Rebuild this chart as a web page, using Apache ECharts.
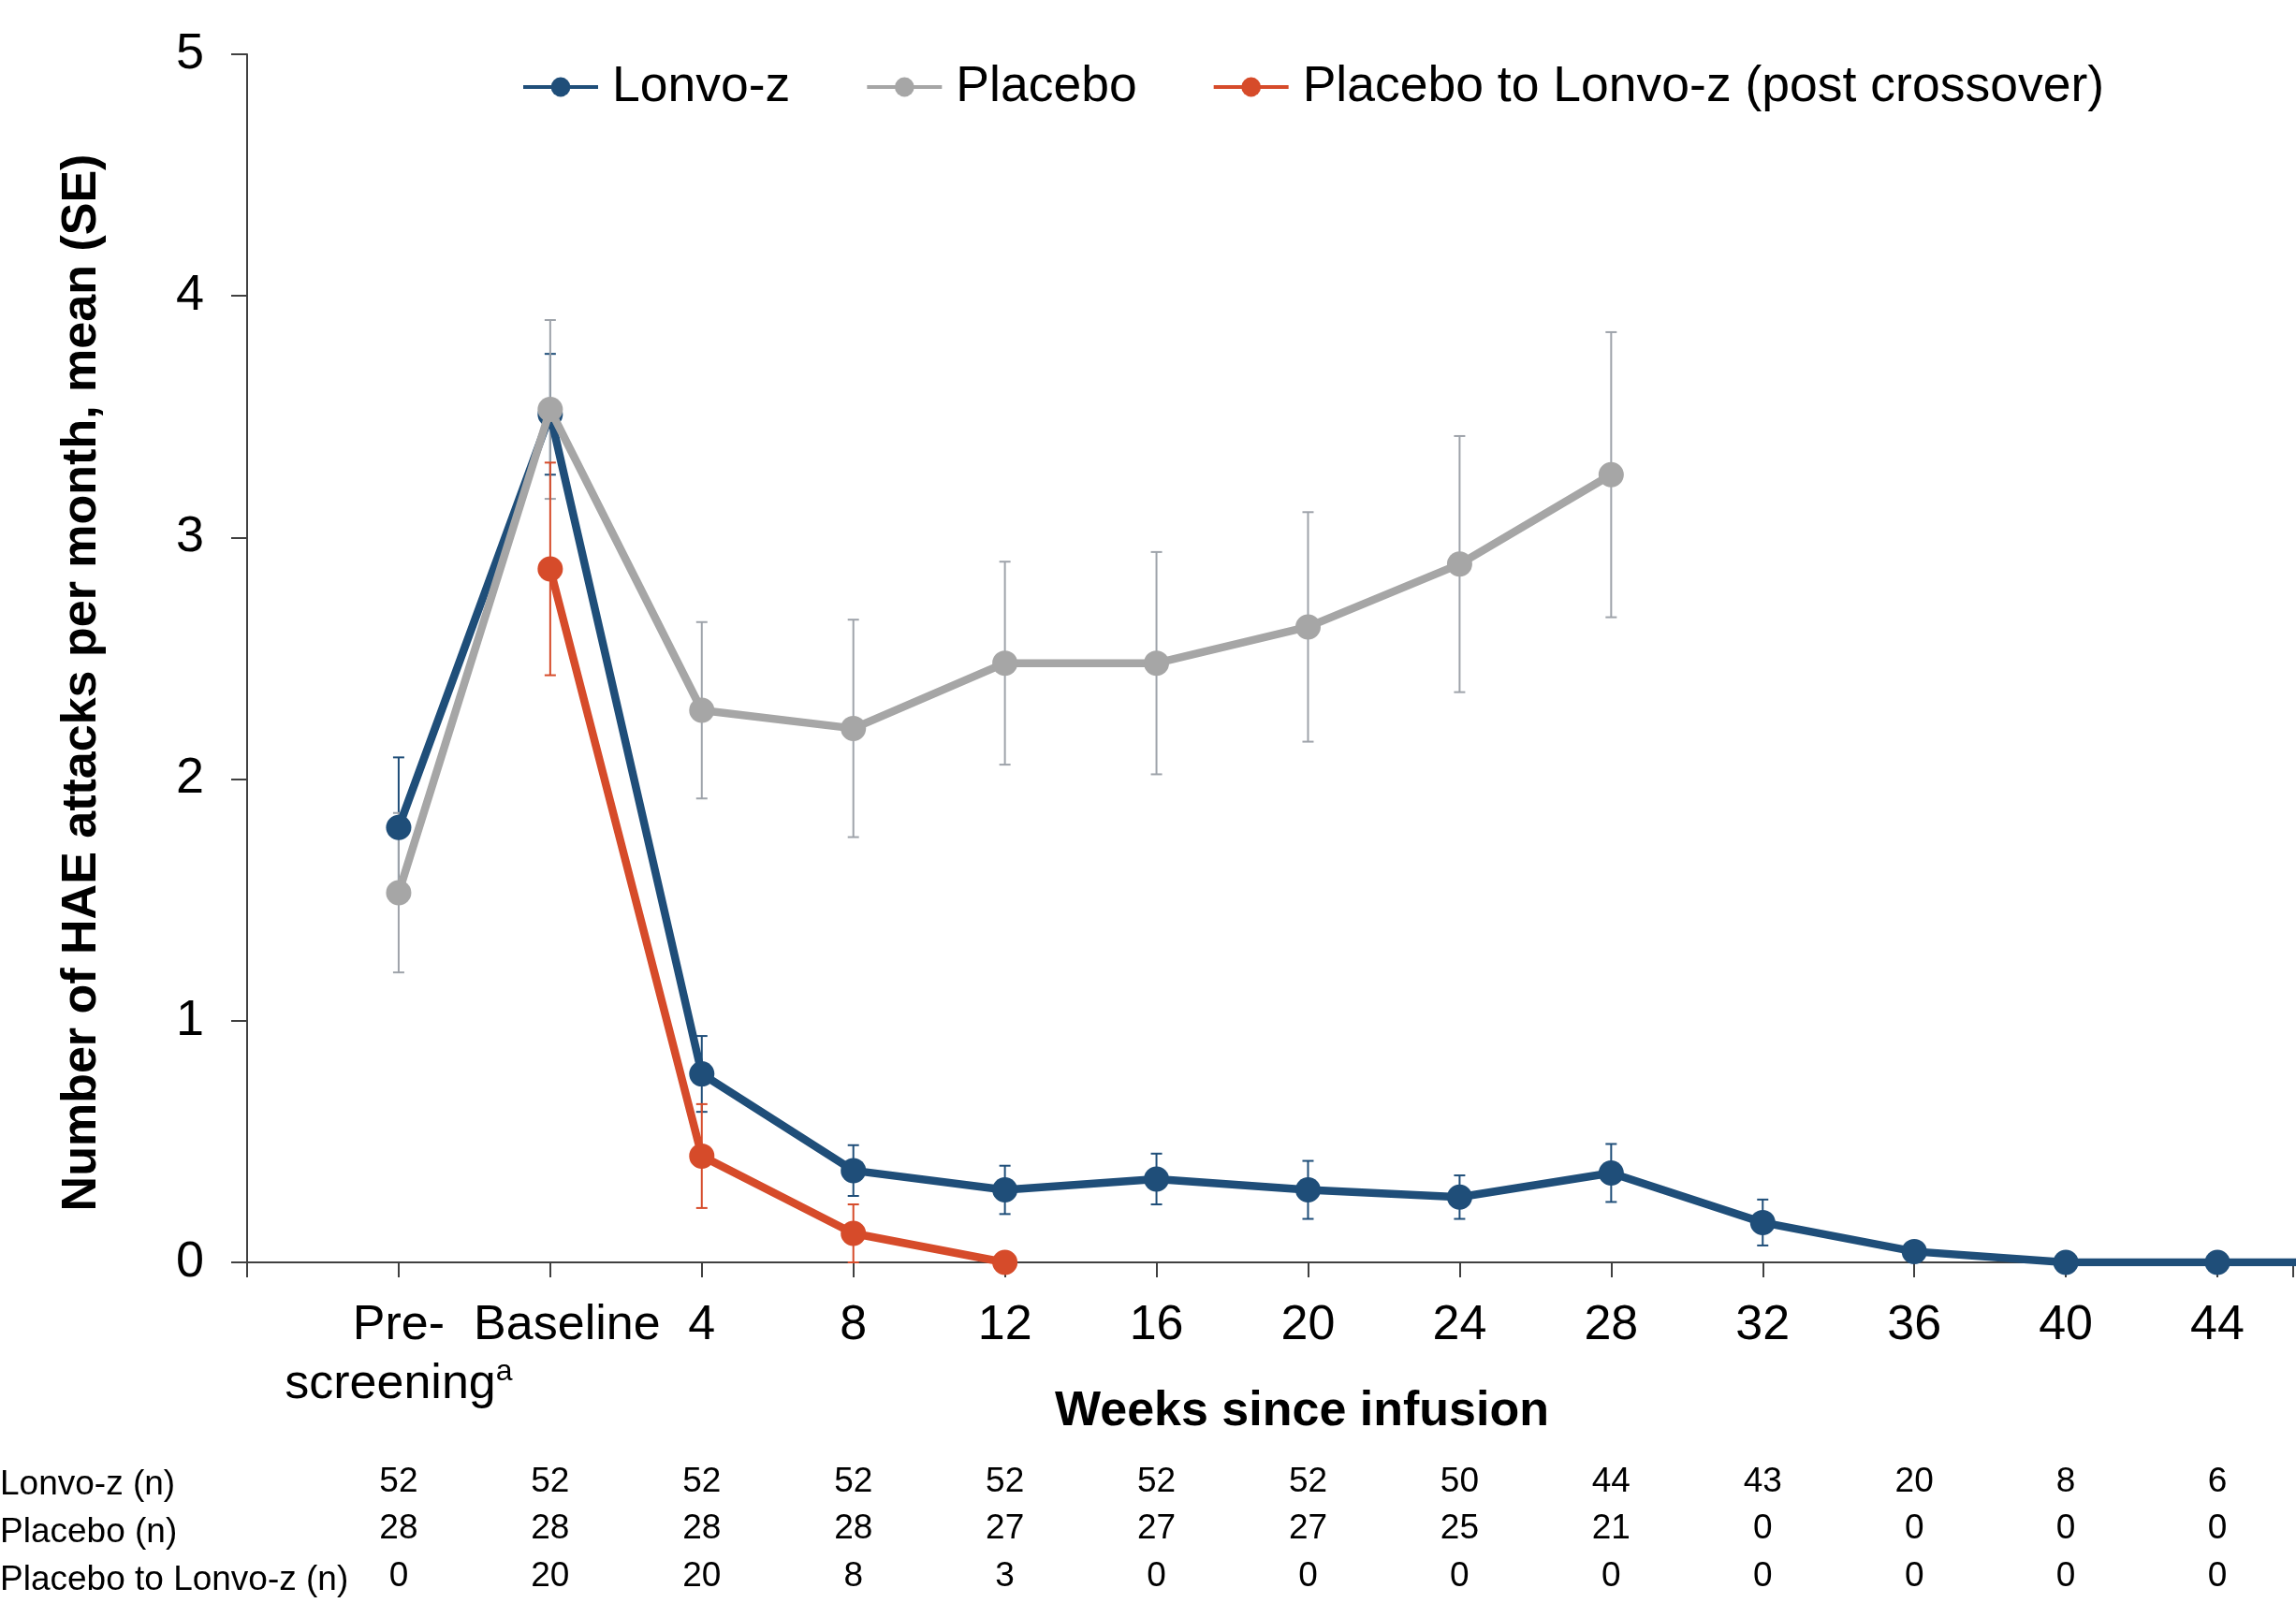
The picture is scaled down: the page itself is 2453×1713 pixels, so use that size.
<!DOCTYPE html>
<html>
<head>
<meta charset="utf-8">
<script src="https://cdn.jsdelivr.net/npm/echarts@6/dist/echarts.min.js"></script>
<style>
  html, body { margin: 0; padding: 0; background: #fff; }
  #chart { width: 2453px; height: 1713px; }
</style>
</head>
<body>
<div id="chart"></div>
<script>
// x positions 1..13 = Pre-screening, Baseline, week 4 ... week 44
var xLabels = ['Pre-\nscreening', 'Baseline', '4', '8', '12', '16', '20', '24', '28', '32', '36', '40', '44'];

// Lonvo-z (last value = week 48, past the visible edge)
var lonvoMean = [1.80, 3.51, 0.78, 0.38, 0.30, 0.345, 0.30, 0.27, 0.37, 0.165, 0.045, 0, 0, 0];
var lonvoSE = [0.29, 0.25, 0.157, 0.105, 0.10, 0.105, 0.12, 0.09, 0.12, 0.095, 0.02, 0, 0];

// Placebo, Pre-screening .. week 28
var placeboMean = [1.53, 3.53, 2.285, 2.21, 2.48, 2.48, 2.63, 2.89, 3.26];
var placeboSE = [0.33, 0.37, 0.365, 0.45, 0.42, 0.46, 0.475, 0.53, 0.59];

// Placebo to Lonvo-z, Baseline .. week 12
var crossMean = [2.87, 0.44, 0.12, 0];
var crossSE = [0.44, 0.215, 0.12, 0];

var lonvoN = [52, 52, 52, 52, 52, 52, 52, 50, 44, 43, 20, 8, 6];
var placeboN = [28, 28, 28, 28, 27, 27, 27, 25, 21, 0, 0, 0, 0];
var crossN = [0, 20, 20, 8, 3, 0, 0, 0, 0, 0, 0, 0, 0];

var FONT = "'Liberation Sans', Arial, sans-serif";
var BLUE = '#1f4e79', GREY = '#a6a6a6', GREYBAR = '#9ea3aa', RED = '#d64b2a';

function pts(means, start) {
    var out = [];
    for (var i = 0; i < means.length; i++) out.push([start + i, means[i]]);
    return out;
}
function bars(means, ses, start) {
    var out = [];
    for (var i = 0; i < ses.length; i++) out.push([start + i, means[i] - ses[i], means[i] + ses[i]]);
    return out;
}
function errorBar(color) {
    return function (params, api) {
        var x = api.value(0);
        var lo = api.coord([x, api.value(1)]);
        var hi = api.coord([x, api.value(2)]);
        var hw = 6;
        var st = { stroke: color, lineWidth: 2 };
        return {
            type: 'group',
            children: [
                { type: 'line', shape: { x1: hi[0], y1: hi[1], x2: lo[0], y2: lo[1] }, style: st },
                { type: 'line', shape: { x1: hi[0] - hw, y1: hi[1], x2: hi[0] + hw, y2: hi[1] }, style: st },
                { type: 'line', shape: { x1: lo[0] - hw, y1: lo[1], x2: lo[0] + hw, y2: lo[1] }, style: st }
            ]
        };
    };
}
function countAxis(counts, offset) {
    return {
        type: 'value', min: 0, max: 13.5, interval: 1, position: 'bottom', offset: offset,
        axisLine: { show: false }, axisTick: { show: false }, splitLine: { show: false },
        axisLabel: {
            margin: 0, fontSize: 37, lineHeight: 40, color: '#000', fontFamily: FONT,
            formatter: function (v) {
                return (v >= 1 && v <= 13 && v % 1 === 0) ? String(counts[v - 1]) : '';
            }
        }
    };
}

var chart = echarts.init(document.getElementById('chart'));
chart.setOption({
    backgroundColor: '#fff',
    animation: false,
    textStyle: { fontFamily: FONT },
    grid: { left: 264, right: 0, top: 58, bottom: 364 },
    legend: {
        left: 552, top: 61, itemWidth: 80, itemHeight: 26, itemGap: 80,
        data: ['Lonvo-z', 'Placebo', 'Placebo to Lonvo-z (post crossover)'],
        lineStyle: { width: 4 },
        textStyle: { fontSize: 53.5, color: '#000', fontFamily: FONT, padding: [0, 0, 0, 10] }
    },
    xAxis: [{
        type: 'value', min: 0, max: 13.5, interval: 1,
        name: 'Weeks since infusion', nameLocation: 'middle', nameGap: 134, nameMoveOverlap: false,
        nameTextStyle: { fontSize: 52, fontWeight: 'bold', color: '#000', padding: [0, 0, 0, 68] },
        axisLine: { lineStyle: { color: '#404040', width: 2 } },
        axisTick: { length: 16, lineStyle: { color: '#404040', width: 2 } },
        splitLine: { show: false },
        axisLabel: {
            margin: 36, fontSize: 52, lineHeight: 63, color: '#000',
            formatter: function (v) {
                if (v < 1 || v > 13 || v % 1 !== 0) return '';
                if (v === 1) return 'Pre-\nscreening{sup|a}';
                if (v === 2) return '{b|Baseline}';
                return xLabels[v - 1];
            },
            rich: {
                sup: { fontSize: 32, color: '#000', padding: [0, 0, 26, 0] },
                b: { fontSize: 52, color: '#000', padding: [0, 0, 0, 36] }
            }
        }
    },
        countAxis(lonvoN, 215),
        countAxis(placeboN, 265),
        countAxis(crossN, 316)
    ],
    yAxis: {
        type: 'value', min: 0, max: 5, interval: 1,
        name: 'Number of HAE attacks per month, mean (SE)', nameLocation: 'middle', nameGap: 150,
        nameTextStyle: { fontSize: 52, fontWeight: 'bold', color: '#000', padding: [0, 52, 0, 0] },
        axisLine: { show: true, lineStyle: { color: '#404040', width: 2 } },
        axisTick: { show: true, length: 17, lineStyle: { color: '#404040', width: 2 } },
        splitLine: { show: false },
        axisLabel: { margin: 46, fontSize: 54, color: '#000' }
    },
    graphic: [
        { type: 'text', left: 0, top: 1568, style: { text: 'Lonvo-z (n)', fontSize: 37, fill: '#000', fontFamily: FONT } },
        { type: 'text', left: 0, top: 1619, style: { text: 'Placebo (n)', fontSize: 37, fill: '#000', fontFamily: FONT } },
        { type: 'text', left: 0, top: 1670, style: { text: 'Placebo to Lonvo-z (n)', fontSize: 37, fill: '#000', fontFamily: FONT } }
    ],
    series: [
        { type: 'custom', name: 'lonvoErr', renderItem: errorBar(BLUE), data: bars(lonvoMean, lonvoSE, 1), z: 1, silent: true },
        { type: 'custom', name: 'placeboErr', renderItem: errorBar(GREYBAR), data: bars(placeboMean, placeboSE, 1), z: 1, silent: true },
        { type: 'custom', name: 'crossErr', renderItem: errorBar(RED), data: bars(crossMean, crossSE, 2), z: 1, silent: true },
        {
            type: 'line', name: 'Lonvo-z', data: pts(lonvoMean, 1), symbol: 'circle', symbolSize: 27,
            itemStyle: { color: BLUE }, lineStyle: { color: BLUE, width: 8.5 }, z: 3
        },
        {
            type: 'line', name: 'Placebo', data: pts(placeboMean, 1), symbol: 'circle', symbolSize: 27,
            itemStyle: { color: GREY }, lineStyle: { color: GREY, width: 8.5 }, z: 4
        },
        {
            type: 'line', name: 'Placebo to Lonvo-z (post crossover)', data: pts(crossMean, 2), symbol: 'circle', symbolSize: 27,
            itemStyle: { color: RED }, lineStyle: { color: RED, width: 8.5 }, z: 5
        }
    ]
});
</script>
</body>
</html>
